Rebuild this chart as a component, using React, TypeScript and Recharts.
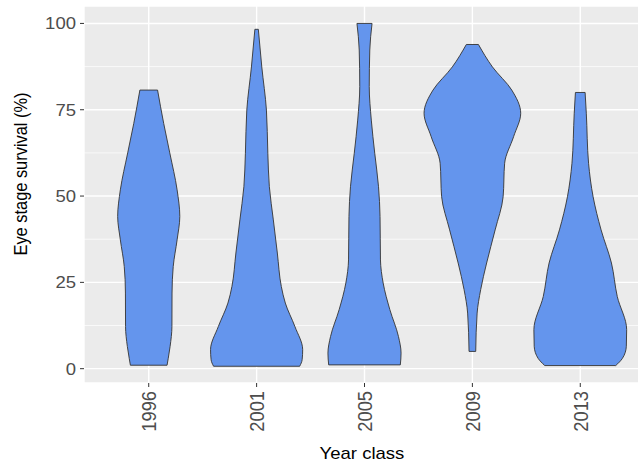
import React from 'react';
import { ComposedChart, Area, Line, XAxis, YAxis, CartesianGrid } from 'recharts';

// Year classes, one violin per class (positions 1..5 on the x axis)
const yearClasses = ['1996', '2001', '2005', '2009', '2013'];

// Violin outlines: s = eye stage survival (%), w = half width of the density
const violin1996 = [
  { s: 1.0, w: 0.17 }, { s: 3.0, w: 0.181 }, { s: 6.4, w: 0.198 }, { s: 12.2, w: 0.215 },
  { s: 21.9, w: 0.216 }, { s: 29.6, w: 0.227 }, { s: 37.3, w: 0.263 }, { s: 44.1, w: 0.288 },
  { s: 51.8, w: 0.263 }, { s: 62.5, w: 0.195 }, { s: 71.0, w: 0.139 }, { s: 80.7, w: 0.082 },
];
const violin2001 = [
  { s: 0.7, w: 0.399 }, { s: 2.6, w: 0.422 }, { s: 5.5, w: 0.427 }, { s: 12.2, w: 0.355 },
  { s: 19.0, w: 0.266 }, { s: 23.8, w: 0.229 }, { s: 33.5, w: 0.192 }, { s: 43.1, w: 0.155 },
  { s: 52.7, w: 0.118 }, { s: 62.4, w: 0.104 }, { s: 74.9, w: 0.091 }, { s: 87.4, w: 0.048 },
  { s: 98.3, w: 0.016 },
];
const violin2005 = [
  { s: 1.1, w: 0.332 }, { s: 4.5, w: 0.339 }, { s: 9.3, w: 0.315 }, { s: 17.1, w: 0.235 },
  { s: 24.8, w: 0.173 }, { s: 31.5, w: 0.148 }, { s: 44.1, w: 0.144 }, { s: 52.7, w: 0.13 },
  { s: 62.4, w: 0.095 }, { s: 72.0, w: 0.063 }, { s: 81.7, w: 0.044 }, { s: 92.3, w: 0.049 },
  { s: 100, w: 0.07 },
];
const violin2009 = [
  { s: 5.0, w: 0.031 }, { s: 16.1, w: 0.044 }, { s: 22.9, w: 0.077 }, { s: 30.6, w: 0.132 },
  { s: 40.2, w: 0.211 }, { s: 49.8, w: 0.285 }, { s: 59.5, w: 0.299 }, { s: 67.2, w: 0.382 },
  { s: 74.0, w: 0.448 }, { s: 80.7, w: 0.365 }, { s: 87.4, w: 0.186 }, { s: 93.9, w: 0.056 },
];
const violin2013 = [
  { s: 0.9, w: 0.329 }, { s: 3.0, w: 0.391 }, { s: 6.5, w: 0.427 }, { s: 11.3, w: 0.43 },
  { s: 20.9, w: 0.343 }, { s: 30.6, w: 0.289 }, { s: 40.2, w: 0.193 }, { s: 49.8, w: 0.119 },
  { s: 59.5, w: 0.077 }, { s: 74.0, w: 0.056 }, { s: 80.0, w: 0.045 },
];

const violins = [violin1996, violin2001, violin2005, violin2009, violin2013];

const majorTicks = [0, 25, 50, 75, 100];
const minorTicks = [12.5, 37.5, 62.5, 87.5];

const FILL = '#6495ED';
const OUTLINE = '#333333';
const SX = 1.13; // text is a little wider than tall

// range rows for the filled body of a violin
const bodyRows = (pos: number, rows: { s: number; w: number }[]) =>
  rows.map((r) => ({ s: r.s, band: [pos - r.w, pos + r.w] }));

// flat cap at the first/last density row
const capRows = (pos: number, row: { s: number; w: number }) => [
  { s: row.s, x: pos - row.w },
  { s: row.s, x: pos + row.w },
];

const YTick = (props: any) => {
  const { x, y, payload } = props;
  return (
    <text
      transform={`translate(${x},${y}) scale(${SX},1)`}
      textAnchor="end"
      dy="0.355em"
      fontSize={16.4}
      fill="#4D4D4D"
    >
      {payload.value}
    </text>
  );
};

const XTick = (props: any) => {
  const { x, y, payload } = props;
  return (
    <text
      transform={`translate(${x},${y}) scale(${SX},1) rotate(-90)`}
      textAnchor="end"
      dy="0.355em"
      fontSize={18.3}
      fill="#4D4D4D"
    >
      {yearClasses[payload.value - 1]}
    </text>
  );
};

const App: React.FC = () => {
  return (
    <div
      style={{
        position: 'absolute',
        left: 0,
        top: 0,
        width: 638,
        height: 464,
        overflow: 'hidden',
        background: '#fff',
        fontFamily: '"Liberation Sans", Arial, sans-serif',
      }}
    >
      <ComposedChart
        layout="vertical"
        width={646}
        height={464}
        margin={{ top: 6, right: 1, bottom: 21, left: 24 }}
      >
        {/* panel background + major grid */}
        <CartesianGrid fill="#EBEBEB" stroke="#FFFFFF" strokeWidth={1.4} />
        {/* minor horizontal grid */}
        <CartesianGrid
          vertical={false}
          horizontalValues={minorTicks}
          stroke="#FFFFFF"
          strokeWidth={0.7}
        />
        <XAxis
          type="number"
          domain={[0.4, 5.6]}
          ticks={[1, 2, 3, 4, 5]}
          interval={0}
          allowDataOverflow
          axisLine={false}
          tickSize={4}
          tickMargin={4}
          tickLine={{ stroke: OUTLINE, strokeWidth: 1 }}
          tick={<XTick />}
          height={60}
        />
        <YAxis
          type="number"
          dataKey="s"
          domain={[-4.15, 105.05]}
          ticks={majorTicks}
          interval={0}
          reversed
          allowDataOverflow
          axisLine={false}
          tickSize={4}
          tickMargin={4}
          tickLine={{ stroke: OUTLINE, strokeWidth: 1 }}
          tick={<YTick />}
          width={60}
        />
        {violins.map((rows, i) => (
          <Area
            key={`body-${yearClasses[i]}`}
            data={bodyRows(i + 1, rows)}
            dataKey="band"
            type="monotone"
            fill={FILL}
            fillOpacity={1}
            stroke={OUTLINE}
            strokeWidth={0.9}
            dot={false}
            activeDot={false}
            isAnimationActive={false}
          />
        ))}
        {violins.map((rows, i) => (
          <Line
            key={`bottom-${yearClasses[i]}`}
            data={capRows(i + 1, rows[0])}
            dataKey="x"
            stroke={OUTLINE}
            strokeWidth={0.9}
            dot={false}
            activeDot={false}
            isAnimationActive={false}
          />
        ))}
        {violins.map((rows, i) => (
          <Line
            key={`top-${yearClasses[i]}`}
            data={capRows(i + 1, rows[rows.length - 1])}
            dataKey="x"
            stroke={OUTLINE}
            strokeWidth={0.9}
            dot={false}
            activeDot={false}
            isAnimationActive={false}
          />
        ))}
      </ComposedChart>
      <div
        style={{
          position: 'absolute',
          left: 362,
          top: 453,
          transform: `translate(-50%, -50%) scaleX(${SX})`,
          fontSize: 16.4,
          color: '#000',
          whiteSpace: 'nowrap',
        }}
      >
        Year class
      </div>
      <div
        style={{
          position: 'absolute',
          left: 21,
          top: 174,
          transform: `translate(-50%, -50%) scaleX(${SX}) rotate(-90deg)`,
          fontSize: 16.4,
          color: '#000',
          whiteSpace: 'nowrap',
        }}
      >
        Eye stage survival (%)
      </div>
    </div>
  );
};

export default App;
